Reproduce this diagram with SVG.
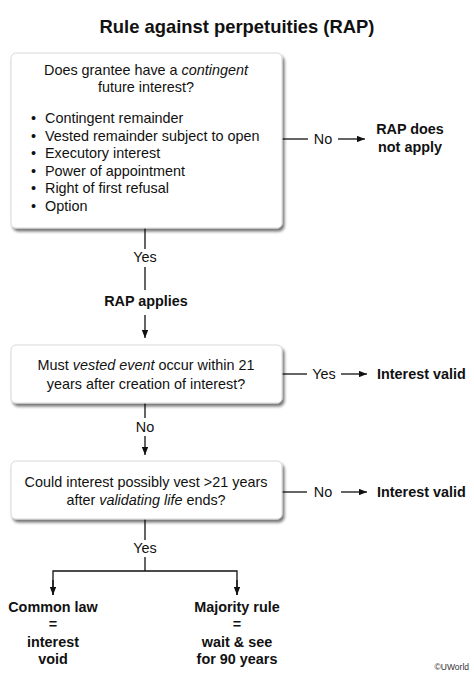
<svg xmlns="http://www.w3.org/2000/svg" width="474" height="677" viewBox="0 0 474 677">
<style>
text{font-family:"Liberation Sans",Arial,sans-serif;font-size:14.4px;fill:#111}
.b{font-weight:bold}
.c{text-anchor:middle}
.box{fill:#fff;stroke:#d8d8d8;stroke-width:1;filter:url(#sh)}
.ln{stroke:#111;stroke-width:1.3;fill:none}
.ar{stroke:#111;stroke-width:1.3;fill:none;marker-end:url(#ah)}
</style>
<defs>
<filter id="sh" x="-10%" y="-10%" width="120%" height="130%">
<feGaussianBlur in="SourceAlpha" stdDeviation="1.8"/>
<feOffset dx="1.5" dy="2.5" result="o"/>
<feComponentTransfer><feFuncA type="linear" slope="0.55"/></feComponentTransfer>
<feMerge><feMergeNode/><feMergeNode in="SourceGraphic"/></feMerge>
</filter>
<marker id="ah" viewBox="0 0 10 8" refX="10" refY="4" markerWidth="8" markerHeight="6.4" markerUnits="userSpaceOnUse" orient="auto">
<path d="M0,0 L10,4 L0,8 Z" fill="#111"/>
</marker>
</defs>
<text class="b c" x="237" y="33" style="font-size:18.4px">Rule against perpetuities (RAP)</text>
<g id="connectors">
<line class="ln" x1="282" y1="139" x2="308" y2="139"/>
<line class="ar" x1="338" y1="139" x2="365" y2="139"/>
<line class="ln" x1="145" y1="228" x2="145" y2="249"/>
<line class="ln" x1="145" y1="267" x2="145" y2="290"/>
<line class="ar" x1="145" y1="315" x2="145" y2="338"/>
<line class="ln" x1="282" y1="374" x2="307" y2="374"/>
<line class="ar" x1="341" y1="374" x2="367" y2="374"/>
<line class="ln" x1="145" y1="403" x2="145" y2="418"/>
<line class="ar" x1="145" y1="436" x2="145" y2="455"/>
<line class="ln" x1="282" y1="492" x2="307" y2="492"/>
<line class="ar" x1="341" y1="492" x2="367" y2="492"/>
<line class="ln" x1="145" y1="519" x2="145" y2="540"/>
<polyline class="ln" points="53,595 53,571 237,571 237,595"/>
<line class="ln" x1="145" y1="557" x2="145" y2="571"/>
<line class="ar" x1="53" y1="580" x2="53" y2="595"/>
<line class="ar" x1="237" y1="580" x2="237" y2="595"/>
<text class="c" x="323" y="144">No</text>
<text class="c" x="145" y="262">Yes</text>
<text class="c" x="324" y="379">Yes</text>
<text class="c" x="145" y="432">No</text>
<text class="c" x="323" y="497">No</text>
<text class="c" x="145" y="553">Yes</text>
</g>
<g id="q1">
<rect class="box" x="11" y="53" width="271" height="175" rx="5"/>
<text class="c" x="146" y="75">Does grantee have a <tspan font-style="italic">contingent</tspan></text>
<text class="c" x="146" y="92">future interest?</text>
<g>
<text x="31" y="123">•</text><text x="45" y="123">Contingent remainder</text>
<text x="31" y="141">•</text><text x="45" y="141">Vested remainder subject to open</text>
<text x="31" y="158">•</text><text x="45" y="158">Executory interest</text>
<text x="31" y="176">•</text><text x="45" y="176">Power of appointment</text>
<text x="31" y="193">•</text><text x="45" y="193">Right of first refusal</text>
<text x="31" y="211">•</text><text x="45" y="211">Option</text>
</g>
</g>
<g id="rapNot"><text class="b c" x="410" y="134">RAP does</text><text class="b c" x="410" y="152">not apply</text></g>
<g id="rapApplies"><text class="b c" x="146" y="306">RAP applies</text></g>
<g id="q2">
<rect class="box" x="11" y="345" width="271" height="58" rx="5"/>
<text class="c" x="146" y="370">Must <tspan font-style="italic">vested event</tspan> occur within 21</text>
<text class="c" x="146" y="389">years after creation of interest?</text>
</g>
<g id="valid1"><text class="b" x="377" y="379">Interest valid</text></g>
<g id="q3">
<rect class="box" x="11" y="461" width="271" height="58" rx="5"/>
<text class="c" x="146" y="487">Could interest possibly vest &gt;21 years</text>
<text class="c" x="146" y="505">after <tspan font-style="italic">validating life</tspan> ends?</text>
</g>
<g id="valid2"><text class="b" x="377" y="497">Interest valid</text></g>
<g id="common">
<text class="b c" x="53" y="612">Common law</text>
<text class="b c" x="53" y="629">=</text>
<text class="b c" x="53" y="647">interest</text>
<text class="b c" x="53" y="664">void</text>
</g>
<g id="majority">
<text class="b c" x="237" y="612">Majority rule</text>
<text class="b c" x="237" y="629">=</text>
<text class="b c" x="237" y="647">wait &amp; see</text>
<text class="b c" x="237" y="664">for 90 years</text>
</g>
<text x="469" y="670" style="font-size:8.5px;text-anchor:end;fill:#333">©UWorld</text>
</svg>
